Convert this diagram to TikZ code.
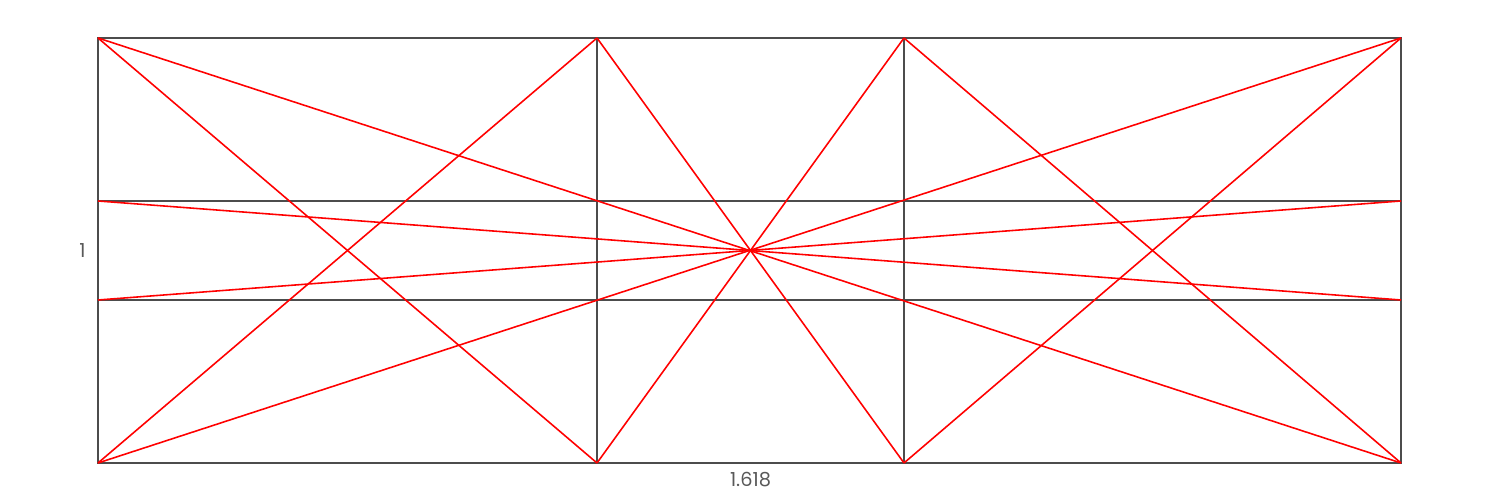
\documentclass[tikz,border=0pt]{standalone}
\usepackage{fontspec}
\setmainfont{Poppins}
\usetikzlibrary{positioning,calc}

\begin{document}
\begin{tikzpicture}[gridline/.style={draw=black!70,line width=0.6pt},
        redline/.style={draw=red,line width=0.45pt},
        dimlabel/.style={text=black!65,font=\fontsize{5.5}{6}\selectfont}]
            \useasboundingbox (0,0) rectangle (15,5);

            % outer frame and grid points
            \coordinate (tl) at (0.98,4.62);
            \coordinate (tr) at (14.01,4.62);
            \coordinate (bl) at (0.98,0.37);
            \coordinate (br) at (14.01,0.37);
            \coordinate (ta) at (5.97,4.62);
            \coordinate (tb) at (9.04,4.62);
            \coordinate (ba) at (5.97,0.37);
            \coordinate (bb) at (9.04,0.37);
            \coordinate (lu) at (0.98,2.99);
            \coordinate (ll) at (0.98,2.00);
            \coordinate (ru) at (14.01,2.99);
            \coordinate (rl) at (14.01,2.00);
            \coordinate (c) at (7.49,2.495);

            \draw[gridline] (tl) rectangle (br);
            \draw[gridline] (ta) -- (ba) (tb) -- (bb);
            \draw[gridline] (lu) -- (ru) (ll) -- (rl);

            % construction lines
            \path[redline] (tl) edge (br)
                                edge (ba)
                           (bl) edge (tr)
                                edge (ta)
                           (lu) edge (rl)
                           (ll) edge (ru)
                           (ta) edge (bb)
                           (tb) edge (ba)
                                edge (br)
                           (bb) edge (tr);

            \node[dimlabel] (h) [left=0pt of $(lu)!0.5!(ll)$] {1};
            \node[dimlabel] (w) [below=-0.8pt of $(ba)!0.5!(bb)$] {1.618};
        \end{tikzpicture}
\end{document}
